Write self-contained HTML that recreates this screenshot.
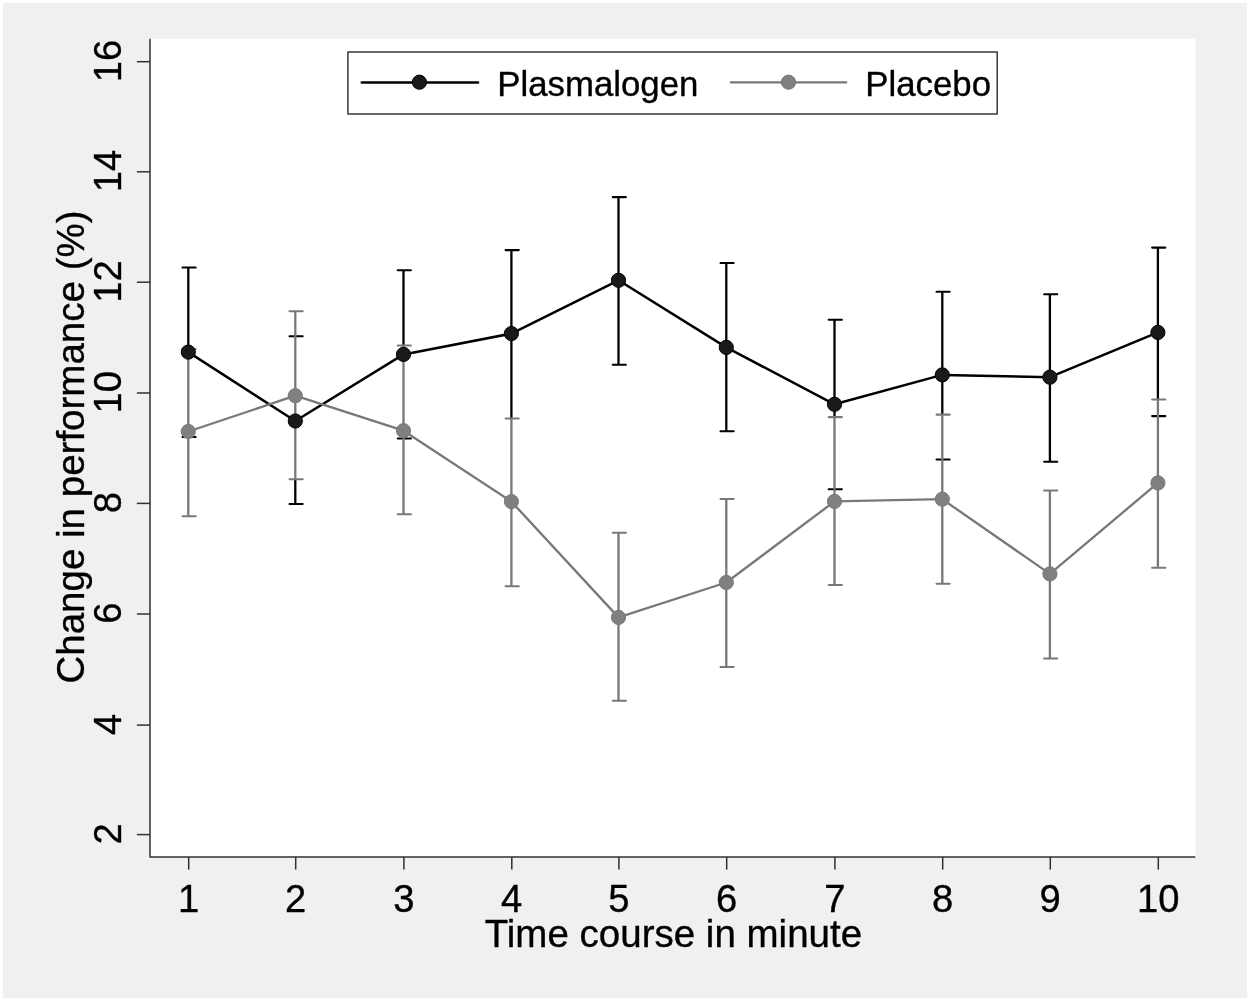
<!DOCTYPE html>
<html lang="en"><head><meta charset="utf-8"><title>Change in performance</title>
<style>
html,body{margin:0;padding:0;background:#fff;overflow:hidden}
svg{display:block;will-change:transform}
text{font-family:"Liberation Sans",Arial,Helvetica,sans-serif;fill:#000;stroke:#000;stroke-width:.35px}
</style></head><body>
<svg width="1250" height="1001" viewBox="0 0 1250 1001">
<rect x="0" y="0" width="1250" height="1001" fill="#fff"/>
<rect x="2.9" y="2.8" width="1244.2" height="995.3" fill="#f0f0f0"/>
<rect x="150" y="38.8" width="1045.3" height="818.2" fill="#fff"/>

<g stroke="#303030" stroke-width="1.5" fill="none" stroke-linejoin="round">
<path d="M150 38.8V856.9H1195.3"/>
<line x1="136.9" y1="61.7" x2="150" y2="61.7"/>
<line x1="136.9" y1="171.8" x2="150" y2="171.8"/>
<line x1="136.9" y1="282.2" x2="150" y2="282.2"/>
<line x1="136.9" y1="393.0" x2="150" y2="393.0"/>
<line x1="136.9" y1="503.4" x2="150" y2="503.4"/>
<line x1="136.9" y1="614.0" x2="150" y2="614.0"/>
<line x1="136.9" y1="725.1" x2="150" y2="725.1"/>
<line x1="136.9" y1="834.6" x2="150" y2="834.6"/>
<line x1="188.70" y1="856.9" x2="188.70" y2="869.6"/>
<line x1="295.70" y1="856.9" x2="295.70" y2="869.6"/>
<line x1="403.90" y1="856.9" x2="403.90" y2="869.6"/>
<line x1="511.80" y1="856.9" x2="511.80" y2="869.6"/>
<line x1="618.90" y1="856.9" x2="618.90" y2="869.6"/>
<line x1="726.70" y1="856.9" x2="726.70" y2="869.6"/>
<line x1="834.90" y1="856.9" x2="834.90" y2="869.6"/>
<line x1="942.70" y1="856.9" x2="942.70" y2="869.6"/>
<line x1="1050.30" y1="856.9" x2="1050.30" y2="869.6"/>
<line x1="1158.30" y1="856.9" x2="1158.30" y2="869.6"/>
</g>
<g font-size="39.7">
<text transform="translate(121.2,60.9) rotate(-90) scale(0.962,1)" text-anchor="middle">16</text>
<text transform="translate(121.2,171.0) rotate(-90) scale(0.962,1)" text-anchor="middle">14</text>
<text transform="translate(121.2,281.4) rotate(-90) scale(0.962,1)" text-anchor="middle">12</text>
<text transform="translate(121.2,392.2) rotate(-90) scale(0.962,1)" text-anchor="middle">10</text>
<text transform="translate(121.2,502.6) rotate(-90) scale(0.962,1)" text-anchor="middle">8</text>
<text transform="translate(121.2,613.2) rotate(-90) scale(0.962,1)" text-anchor="middle">6</text>
<text transform="translate(121.2,724.3) rotate(-90) scale(0.962,1)" text-anchor="middle">4</text>
<text transform="translate(121.2,833.8) rotate(-90) scale(0.962,1)" text-anchor="middle">2</text>
<text transform="translate(188.60,912.2) scale(0.962,1)" text-anchor="middle">1</text>
<text transform="translate(295.60,912.2) scale(0.962,1)" text-anchor="middle">2</text>
<text transform="translate(403.80,912.2) scale(0.962,1)" text-anchor="middle">3</text>
<text transform="translate(511.70,912.2) scale(0.962,1)" text-anchor="middle">4</text>
<text transform="translate(618.80,912.2) scale(0.962,1)" text-anchor="middle">5</text>
<text transform="translate(726.60,912.2) scale(0.962,1)" text-anchor="middle">6</text>
<text transform="translate(834.80,912.2) scale(0.962,1)" text-anchor="middle">7</text>
<text transform="translate(942.60,912.2) scale(0.962,1)" text-anchor="middle">8</text>
<text transform="translate(1050.20,912.2) scale(0.962,1)" text-anchor="middle">9</text>
<text transform="translate(1158.20,912.2) scale(0.962,1)" text-anchor="middle">10</text>
</g>
<g font-size="38.8">
<text transform="translate(673.4,947) scale(0.993,1)" text-anchor="middle">Time course in minute</text>
<text transform="translate(83.6,447) rotate(-90) scale(0.993,1)" text-anchor="middle">Change in performance (%)</text>
</g>
<g stroke="#000" stroke-width="2.3" fill="none">
<path d="M188.30 267.4V349.0"/><path stroke-linecap="round" stroke-width="2.05" d="M182.50 267.4h13.2M182.50 437.0h13.2"/>
<path d="M295.30 479.3V504.0"/><path stroke-linecap="round" stroke-width="2.05" d="M289.50 336.3h13.2M289.50 504.0h13.2"/>
<path d="M403.50 270.2V345.5"/><path stroke-linecap="round" stroke-width="2.05" d="M397.70 270.2h13.2M397.70 438.4h13.2"/>
<path d="M511.40 250.1V418.4"/><path stroke-linecap="round" stroke-width="2.05" d="M505.60 250.1h13.2"/>
<path d="M618.50 197.1V364.8"/><path stroke-linecap="round" stroke-width="2.05" d="M612.70 197.1h13.2M612.70 364.8h13.2"/>
<path d="M726.30 262.9V431.2"/><path stroke-linecap="round" stroke-width="2.05" d="M720.50 262.9h13.2M720.50 431.2h13.2"/>
<path d="M834.50 319.8V417.1"/><path stroke-linecap="round" stroke-width="2.05" d="M828.70 319.8h13.2M828.70 489.2h13.2"/>
<path d="M942.30 291.7V414.6"/><path stroke-linecap="round" stroke-width="2.05" d="M936.50 291.7h13.2M936.50 459.4h13.2"/>
<path d="M1049.90 294.2V461.7"/><path stroke-linecap="round" stroke-width="2.05" d="M1044.10 294.2h13.2M1044.10 461.7h13.2"/>
<path d="M1157.90 247.6V399.4"/><path stroke-linecap="round" stroke-width="2.05" d="M1152.10 247.6h13.2M1152.10 416.1h13.2"/>
</g>
<g stroke="#787878" stroke-width="2.3" fill="none">
<path d="M188.30 349.0V516.3"/><path stroke-linecap="round" stroke-width="2.05" d="M182.50 349.0h13.2M182.50 516.3h13.2"/>
<path d="M295.30 311.2V479.3"/><path stroke-linecap="round" stroke-width="2.05" d="M289.50 311.2h13.2M289.50 479.3h13.2"/>
<path d="M403.50 345.5V514.2"/><path stroke-linecap="round" stroke-width="2.05" d="M397.70 345.5h13.2M397.70 514.2h13.2"/>
<path d="M511.40 418.4V586.2"/><path stroke-linecap="round" stroke-width="2.05" d="M505.60 418.4h13.2M505.60 586.2h13.2"/>
<path d="M618.50 532.8V700.8"/><path stroke-linecap="round" stroke-width="2.05" d="M612.70 532.8h13.2M612.70 700.8h13.2"/>
<path d="M726.30 499.0V667.0"/><path stroke-linecap="round" stroke-width="2.05" d="M720.50 499.0h13.2M720.50 667.0h13.2"/>
<path d="M834.50 417.1V584.9"/><path stroke-linecap="round" stroke-width="2.05" d="M828.70 417.1h13.2M828.70 584.9h13.2"/>
<path d="M942.30 414.6V583.7"/><path stroke-linecap="round" stroke-width="2.05" d="M936.50 414.6h13.2M936.50 583.7h13.2"/>
<path d="M1049.90 490.4V658.4"/><path stroke-linecap="round" stroke-width="2.05" d="M1044.10 490.4h13.2M1044.10 658.4h13.2"/>
<path d="M1157.90 399.4V567.7"/><path stroke-linecap="round" stroke-width="2.05" d="M1152.10 399.4h13.2M1152.10 567.7h13.2"/>
</g>
<polyline points="188.30,352.1 295.30,421.0 403.50,354.4 511.40,333.6 618.50,280.3 726.30,347.4 834.50,404.3 942.30,374.9 1049.90,377.2 1157.90,332.4" fill="none" stroke="#000" stroke-width="2.5" stroke-linejoin="round"/>
<g fill="#1a1a1a" stroke="#000" stroke-width="1">
<circle cx="188.30" cy="352.1" r="7.1"/>
<circle cx="295.30" cy="421.0" r="7.1"/>
<circle cx="403.50" cy="354.4" r="7.1"/>
<circle cx="511.40" cy="333.6" r="7.1"/>
<circle cx="618.50" cy="280.3" r="7.1"/>
<circle cx="726.30" cy="347.4" r="7.1"/>
<circle cx="834.50" cy="404.3" r="7.1"/>
<circle cx="942.30" cy="374.9" r="7.1"/>
<circle cx="1049.90" cy="377.2" r="7.1"/>
<circle cx="1157.90" cy="332.4" r="7.1"/>
</g>
<polyline points="188.30,431.5 295.30,395.7 403.50,430.7 511.40,501.6 618.50,617.4 726.30,582.5 834.50,501.4 942.30,499.2 1049.90,573.9 1157.90,482.9" fill="none" stroke="#787878" stroke-width="2.3" stroke-linejoin="round"/>
<g fill="#808080" stroke="#787878" stroke-width="1">
<circle cx="188.30" cy="431.5" r="7.1"/>
<circle cx="295.30" cy="395.7" r="7.1"/>
<circle cx="403.50" cy="430.7" r="7.1"/>
<circle cx="511.40" cy="501.6" r="7.1"/>
<circle cx="618.50" cy="617.4" r="7.1"/>
<circle cx="726.30" cy="582.5" r="7.1"/>
<circle cx="834.50" cy="501.4" r="7.1"/>
<circle cx="942.30" cy="499.2" r="7.1"/>
<circle cx="1049.90" cy="573.9" r="7.1"/>
<circle cx="1157.90" cy="482.9" r="7.1"/>
</g>
<rect x="347.9" y="52" width="649.3" height="61.9" fill="#fff" stroke="#383838" stroke-width="1.5" stroke-linejoin="round"/>
<line x1="361.8" y1="82.4" x2="478" y2="82.4" stroke="#000" stroke-width="2.5" stroke-linecap="round"/>
<circle cx="419.4" cy="82.2" r="7.1" fill="#1a1a1a" stroke="#000" stroke-width="1"/>
<line x1="730.9" y1="82.4" x2="846.2" y2="82.4" stroke="#787878" stroke-width="2.3" stroke-linecap="round"/>
<circle cx="788.5" cy="82.2" r="7.1" fill="#808080" stroke="#787878" stroke-width="1"/>
<g font-size="35.3">
<text transform="translate(497.2,96.1) scale(0.986,1)">Plasmalogen</text>
<text transform="translate(865.3,96.1) scale(0.986,1)">Placebo</text>
</g>
</svg></body></html>
